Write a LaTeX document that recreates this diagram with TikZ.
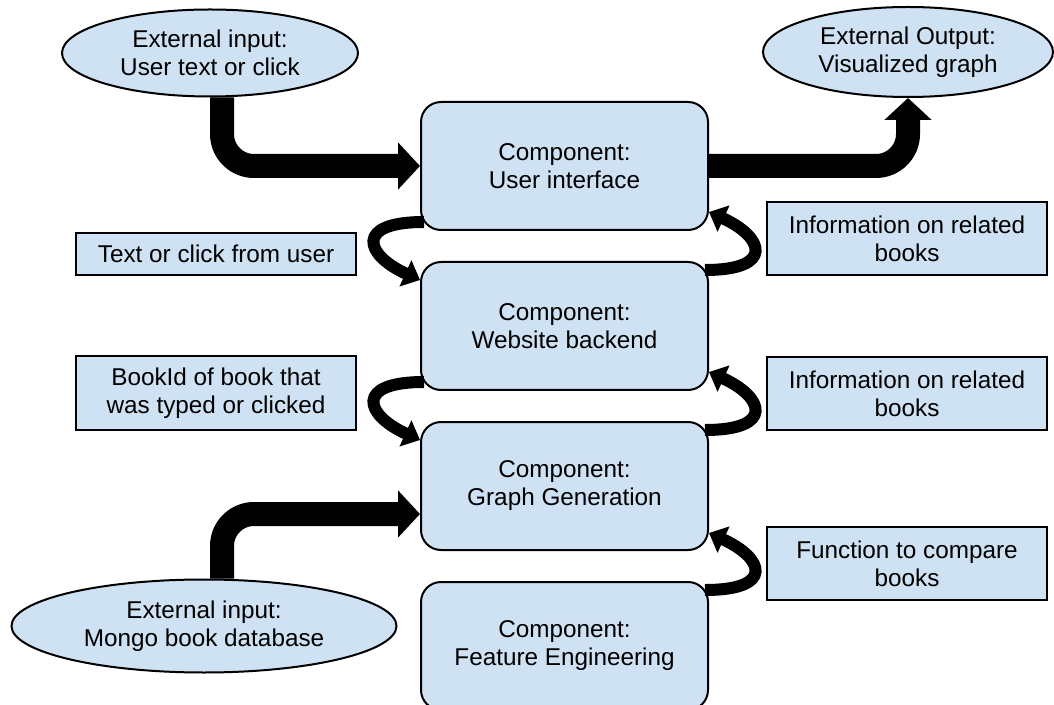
\documentclass[tikz,border=0pt]{standalone}
\usepackage{fontspec}
\setmainfont{Liberation Sans}
\usepackage{xcolor}
\usetikzlibrary{positioning,shapes.geometric,arrows.meta}
\definecolor{paleblue}{HTML}{CFE2F3}

\begin{document}
\begin{tikzpicture}[%
    x=0.5pt,y=-0.5pt,node distance=15pt,
    font=\fontsize{12.15}{14}\selectfont,
    comp/.style={%
      rectangle,rounded corners=10pt,draw,line width=1pt,fill=paleblue,
      minimum width=143.5pt,minimum height=64pt,align=center},
    info/.style={%
      rectangle,draw,line width=1pt,fill=paleblue,minimum width=140pt,align=center},
    ext/.style={%
      ellipse,draw,line width=1pt,fill=paleblue,inner sep=0pt,align=center},
    flow/.style={%
      line width=12pt,rounded corners=16pt,-{Triangle[width=23pt,length=11pt]}},
    hop/.style={%
      line width=6pt,-{Triangle[width=14pt,length=8pt]}}
  ]
    \useasboundingbox (0,0) rectangle (1054,705);

    \node[comp] (ui) at (564.5,166)    {Component:\\User interface};
    \node[comp] (web) [below=of ui]    {Component:\\Website backend};
    \node[comp] (gen) [below=of web]   {Component:\\Graph Generation};
    \node[comp] (feat) [below=of gen]  {Component:\\Feature Engineering};

    \node[ext, minimum width=148pt, minimum height=43.5pt] (usr) at (210,53)
      {External input:\\User text or click};
    \node[ext, minimum width=145pt, minimum height=45pt] (vis) at (908,52)
      {External Output:\\Visualized graph};
    \node[ext, minimum width=192.5pt, minimum height=46.5pt] (db) at (204,626)
      {External input:\\Mongo book database};

    \node[info, minimum height=21pt] (click) at (216,254)   {Text or click from user};
    \node[info, minimum height=37pt] (bookid) at (216,393)  {BookId of book that\\was typed or clicked};
    \node[info, minimum height=36.5pt] (rel1) at (907,238.5) {Information on related\\books};
    \node[info, minimum height=36.5pt] (rel2) at (907,393.5) {Information on related\\books};
    \node[info, minimum height=36.5pt] (cmp) at (907,563.5)  {Function to compare\\books};

    % outside world in and out
    \draw[flow] ([xshift=6pt]usr.south) |- (ui.west);
    \draw[flow] (ui.east) -| (vis.south);
    \draw[flow] ([xshift=9pt]db.north) |- ([yshift=-14pt]gen.west);

    % requests going down on the left
    \draw[hop] ([shift={(2pt,4.5pt)}]ui.south west)
      .. controls +(-70,0) and +(-55,-25) .. ([yshift=-9.5pt]web.north west);
    \draw[hop] ([shift={(2pt,4.5pt)}]web.south west)
      .. controls +(-70,0) and +(-55,-25) .. ([yshift=-9.5pt]gen.north west);

    % answers going up on the right
    \draw[hop] ([shift={(-2pt,-4.5pt)}]web.north east)
      .. controls +(70,0) and +(55,25) .. ([yshift=9.5pt]ui.south east);
    \draw[hop] ([shift={(-2pt,-4.5pt)}]gen.north east)
      .. controls +(70,0) and +(55,25) .. ([yshift=9.5pt]web.south east);
    \draw[hop] ([shift={(-2pt,-4.5pt)}]feat.north east)
      .. controls +(70,0) and +(55,25) .. ([yshift=9pt]gen.south east);
\end{tikzpicture}
\end{document}
